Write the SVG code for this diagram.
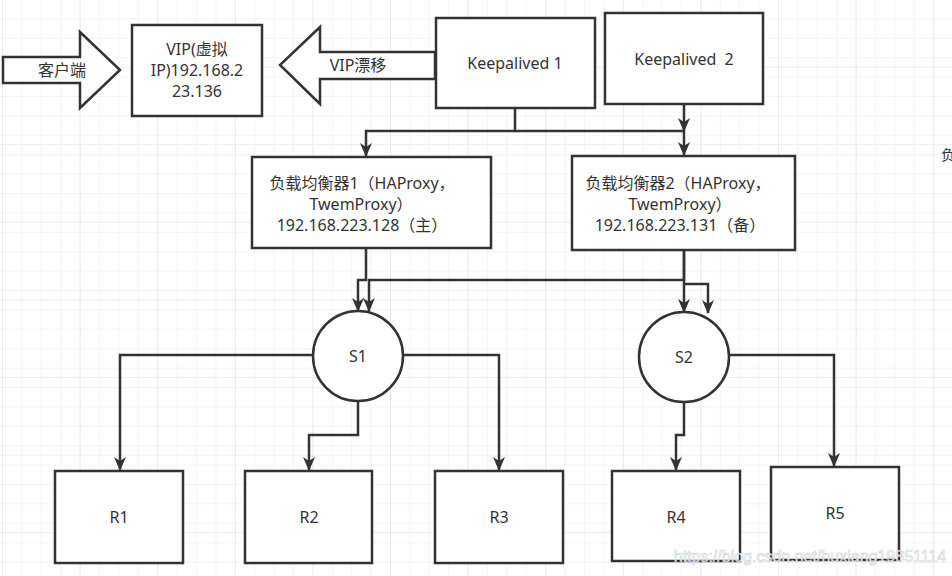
<svg xmlns="http://www.w3.org/2000/svg" width="952" height="576" viewBox="0 0 952 576">
<defs>
<pattern id="g" x="3" y="0" width="19.4" height="19.4" patternUnits="userSpaceOnUse"><path d="M19.4 0V19.4H0" fill="none" stroke="#ececec" stroke-width="1"/></pattern>
<pattern id="G" x="3" y="-10" width="77.6" height="77.6" patternUnits="userSpaceOnUse"><path d="M77.6 0V77.6H0" fill="none" stroke="#e0e0e0" stroke-width="1"/></pattern>
<marker id="ar" markerWidth="12" markerHeight="14" refX="6" refY="13" orient="0" markerUnits="userSpaceOnUse"><path d="M0 0L6 4L12 0L6 14Z" fill="#333"/></marker>
</defs>
<style>
.b{fill:#fff;stroke:#333;stroke-width:2.5}
.c{fill:none;stroke:#333;stroke-width:2.5;marker-end:url(#ar)}
text{font-family:"Noto Sans","Noto Sans CJK SC",sans-serif;font-size:16px;fill:#333;text-anchor:middle}
</style>
<rect width="952" height="576" fill="#fff"/>
<rect width="952" height="576" fill="url(#g)"/>
<rect width="952" height="576" fill="url(#G)"/>
<g id="client"><path class="b" d="M3 57H80V32L120 70L80 108V83H3Z"/><text x="62" y="76">客户端</text></g>
<g id="vip"><rect class="b" x="132" y="25" width="130" height="91"/><text x="197" y="55">VIP(虚拟</text><text x="197" y="76">IP)192.168.2</text><text x="197" y="97">23.136</text></g>
<g id="drift"><path class="b" d="M435 52H320V27L280 65L320 104V79H435Z"/><text x="358" y="71">VIP漂移</text></g>
<g id="k1"><rect class="b" x="436" y="18" width="159" height="90"/><text x="515" y="69">Keepalived 1</text></g>
<g id="k2"><rect class="b" x="605" y="13" width="158" height="91"/><text x="684" y="65" xml:space="preserve">Keepalived  2</text></g>
<g id="lb1"><rect class="b" x="252" y="157" width="239" height="91"/><text x="362" y="189">负载均衡器1（HAProxy，</text><text x="361" y="210">TwemProxy）</text><text x="362" y="231">192.168.223.128（主）</text></g>
<g id="lb2"><rect class="b" x="572" y="156" width="223" height="94"/><text x="678" y="189">负载均衡器2（HAProxy，</text><text x="680" y="210">TwemProxy）</text><text x="680" y="231">192.168.223.131（备）</text></g>
<g id="s1"><circle class="b" cx="358" cy="356" r="45"/><text x="358" y="362">S1</text></g>
<g id="s2"><circle class="b" cx="684" cy="357" r="45"/><text x="684" y="363">S2</text></g>
<g id="r1"><rect class="b" x="55" y="471" width="128" height="92"/><text x="119" y="523">R1</text></g>
<g id="r2"><rect class="b" x="245" y="471" width="127" height="92"/><text x="309" y="523">R2</text></g>
<g id="r3"><rect class="b" x="435" y="471" width="128" height="92"/><text x="499" y="523">R3</text></g>
<g id="r4"><rect class="b" x="612" y="471" width="128" height="90"/><text x="676" y="523">R4</text></g>
<g id="r5"><rect class="b" x="771" y="467" width="128" height="93"/><text x="835" y="519">R5</text></g>
<g id="connectors">
<path class="c" d="M515 108V131H366V156"/>
<path class="c" d="M684 104V155"/>
<path class="c" d="M515 131H684"/>
<path class="c" d="M366 248V280H358V311"/>
<path class="c" d="M684 250V280H369V311"/>
<path class="c" d="M684 250V312"/>
<path class="c" d="M684 284H708V313"/>
<path class="c" d="M313 355H120V470"/>
<path class="c" d="M358 401V435H309V470"/>
<path class="c" d="M403 355H499V470"/>
<path class="c" d="M684 402V435H676V470"/>
<path class="c" d="M729 355H834V466"/>
</g>
<text x="941" y="160" style="text-anchor:start;font-size:14px">负</text>
<text x="810" y="562" style="font-family:'Liberation Sans',sans-serif;font-size:16px;fill:#fff;stroke:#ccc;stroke-width:0.6;opacity:0.9">https://blog.csdn.net/huxiang19851114</text>
</svg>
